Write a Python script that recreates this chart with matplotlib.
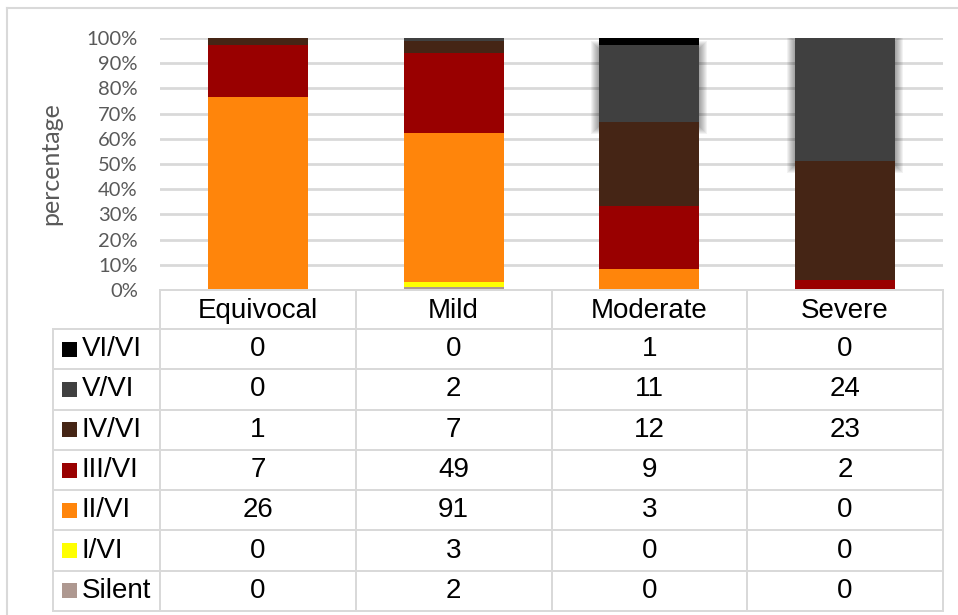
import numpy as np
import matplotlib.pyplot as plt
from matplotlib.patches import Rectangle
from matplotlib.lines import Line2D

# murmur grade counts per severity group
categories = ["Equivocal", "Mild", "Moderate", "Severe"]
grades = ["Silent", "I/VI", "II/VI", "III/VI", "IV/VI", "V/VI", "VI/VI"]
silent = [0, 2, 0, 0]
grade_1 = [0, 3, 0, 0]
grade_2 = [26, 91, 3, 0]
grade_3 = [7, 49, 9, 2]
grade_4 = [1, 7, 12, 23]
grade_5 = [0, 2, 11, 24]
grade_6 = [0, 0, 1, 0]
colors = ["#AE9890", "#FFFF00", "#FF850B", "#990000", "#452515", "#404040", "#000000"]
yticks = [0, 10, 20, 30, 40, 50, 60, 70, 80, 90, 100]

counts = np.array([silent, grade_1, grade_2, grade_3, grade_4, grade_5, grade_6], dtype=float)
pct = counts / counts.sum(axis=0) * 100

W, H = 958, 615
fig = plt.figure(figsize=(W / 100, H / 100), dpi=100)

def fx(px):
    return px / W

def fy(py):
    return 1 - py / H

grid_col = "#D9D9D9"
x0, x1 = 160, 943
y_top, y_bot = 38, 290

ax = fig.add_axes([fx(x0), fy(y_bot), fx(x1) - fx(x0), fy(y_top) - fy(y_bot)])
ax.set_xlim(0, 4)
ax.set_ylim(0, 100)
for s in ax.spines.values():
    s.set_visible(False)
ax.set_xticks([])
ax.set_yticks(yticks)
ax.set_yticklabels([f"{t}%" for t in yticks], fontfamily="Lato", fontsize=14.5, color="#595959")
ax.tick_params(axis="y", length=0, pad=16)
ax.set_ylabel("percentage", fontfamily="Lato", fontsize=18, color="#595959")
ax.yaxis.set_label_coords(-(x0 - 62) / (x1 - x0), 0.5)
ax.set_axisbelow(True)
ax.grid(axis="y", color=grid_col, lw=2)

bar_w = 100 / 195.75
xpos = np.arange(len(categories)) + 0.5
px_x = 4 / (x1 - x0)
px_y = 100 / (y_bot - y_top)

bottom = np.zeros(len(categories))
for i, g in enumerate(grades):
    ax.bar(xpos, pct[i], bar_w, bottom=bottom, color=colors[i], zorder=2)
    if g == "V/VI":
        # soft drop shadow around the larger V/VI segments
        for j in range(len(categories)):
            if pct[i][j] < 5:
                continue
            for k in range(1, 9):
                ax.add_patch(Rectangle(
                    (xpos[j] - bar_w / 2 - k * px_x, bottom[j] - (k + 4) * px_y),
                    bar_w + 2 * k * px_x, pct[i][j] + (2 * k) * px_y,
                    facecolor="black", alpha=0.05, lw=0, zorder=1))
    bottom += pct[i]

# data table under the chart
col_x = [x0 + c * (x1 - x0) / 4 for c in range(5)]
head_top, head_bot = 290, 329
row_h = (611 - head_bot) / 7
tbl_left = 53
lw = 2

def hline(xa, xb, y):
    fig.add_artist(Line2D([fx(xa), fx(xb)], [fy(y), fy(y)], color=grid_col, lw=lw * 0.72))

def vline(x, ya, yb):
    fig.add_artist(Line2D([fx(x), fx(x)], [fy(ya), fy(yb)], color=grid_col, lw=lw * 0.72))

hline(x0, x1, head_top)
for r in range(8):
    hline(tbl_left, x1, head_bot + r * row_h)
for cx in col_x:
    vline(cx, head_top, 611)
vline(tbl_left, head_bot, 611)

tfont = dict(fontfamily="Liberation Sans", fontsize=20, color="#000000")
for c, name in enumerate(categories):
    fig.text(fx((col_x[c] + col_x[c + 1]) / 2), fy((head_top + head_bot) / 2 + 1), name,
             ha="center", va="center", **tfont)

rows_top_down = list(range(len(grades)))[::-1]
for r, gi in enumerate(rows_top_down):
    yc = head_bot + (r + 0.5) * row_h
    fig.add_artist(Rectangle((fx(62), fy(yc + 7.5)), fx(15), 15 / H,
                             facecolor=colors[gi], lw=0, transform=fig.transFigure))
    fig.text(fx(82), fy(yc), grades[gi], ha="left", va="center", **tfont)
    for c in range(len(categories)):
        fig.text(fx((col_x[c] + col_x[c + 1]) / 2), fy(yc), f"{int(counts[gi][c])}",
                 ha="center", va="center", **tfont)

# outer chart frame (top and left edges)
fig.add_artist(Line2D([fx(7), 1], [fy(8), fy(8)], color=grid_col, lw=1.5))
fig.add_artist(Line2D([fx(7), fx(7)], [fy(8), 0], color=grid_col, lw=1.5))

fig.savefig("out.png", dpi=100)
